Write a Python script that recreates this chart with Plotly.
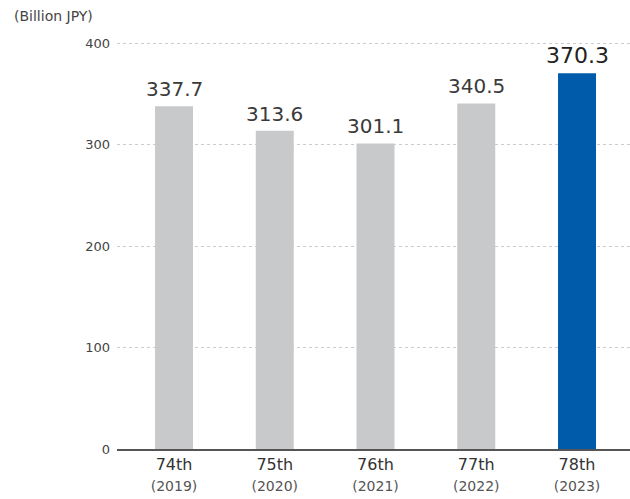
import plotly.graph_objects as go

terms = ["74th", "75th", "76th", "77th", "78th"]
years = ["(2019)", "(2020)", "(2021)", "(2022)", "(2023)"]
values = [337.7, 313.6, 301.1, 340.5, 370.3]
bar_colors = ["#c8c9ca", "#c8c9ca", "#c8c9ca", "#c8c9ca", "#005bab"]
y_ticks = [0, 100, 200, 300, 400]

FONT = "DejaVu Sans"

fig = go.Figure()
fig.add_trace(go.Bar(
    x=terms, y=values, marker=dict(color=bar_colors, line=dict(width=0)),
    width=0.377, hoverinfo="skip",
))

for i, (t, v) in enumerate(zip(terms, values)):
    last = i == len(terms) - 1
    fig.add_annotation(
        x=t, y=v, text=f"{v:.1f}", showarrow=False, yanchor="bottom",
        yshift=3,
        font=dict(family=FONT, size=22 if last else 20,
                  color="#222222" if last else "#3a3a3a"),
    )

ticktext = [f"{t}<br><span style='font-size:14px;color:#555555'>{y}</span>"
            for t, y in zip(terms, years)]

fig.add_annotation(
    text="(Billion JPY)", xref="paper", yref="paper", x=-117/513, y=1,
    xanchor="left", yanchor="bottom", xshift=12, yshift=16, showarrow=False,
    font=dict(family=FONT, size=14, color="#444444"),
)

fig.update_layout(
    width=630, height=499,
    margin=dict(l=117, r=0, t=42, b=50),
    paper_bgcolor="white", plot_bgcolor="white",
    showlegend=False,
    font=dict(family=FONT),
    xaxis=dict(
        tickmode="array", tickvals=terms, ticktext=ticktext,
        range=[-0.566, 4.526],
        showline=True, linecolor="#555555", linewidth=1.5,
        showgrid=False, ticks="",
        tickfont=dict(family=FONT, size=16, color="#333333"),
    ),
    yaxis=dict(
        range=[0, 401], tickvals=y_ticks,
        showgrid=True, gridcolor="#cccccc", griddash="dot", gridwidth=1,
        zeroline=False, showline=False, ticks="",
        ticklabelstandoff=6,
        tickfont=dict(family=FONT, size=13, color="#444444"),
    ),
)

fig.write_html("out.html")
